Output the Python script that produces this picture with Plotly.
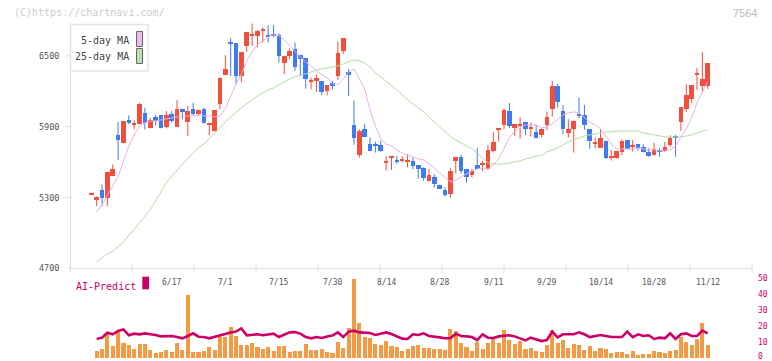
import plotly.graph_objects as go

W, H = 772, 361

# ---------------- data ----------------
date_labels = ["6/17", "7/1", "7/15", "7/30", "8/14", "8/28", "9/11", "9/29", "10/14", "10/28", "11/12"]
date_index = [15, 25, 35, 45, 55, 65, 75, 85, 95, 105, 115]
price_ticks = [4700, 5300, 5900, 6500]
ai_ticks = [0, 10, 20, 30, 40, 50]

opens = [5324, 5283, 5360, 5292, 5481, 5826, 5759, 5954, 5920, 5920,
         6013, 5886, 5985, 5996, 5894, 6005, 5897, 6053, 5940, 6047,
         6008, 6047, 5918, 5863, 6090, 6336, 6619, 6608, 6330, 6585,
         6670, 6670, 6707, 6675, 6684, 6681, 6438, 6500, 6557, 6506,
         6483, 6284, 6285, 6285, 6206, 6268, 6333, 6545, 6364, 5915,
         5661, 5881, 5754, 5754, 5746, 5600, 5636, 5619, 5617, 5602,
         5610, 5576, 5554, 5443, 5475, 5410, 5364, 5330, 5613, 5644,
         5542, 5491, 5576, 5580, 5545, 5695, 5877, 5915, 6034, 5893,
         5908, 5941, 5884, 5856, 5830, 5915, 6046, 6246, 6034, 5850,
         5879, 6008, 6000, 5881, 5758, 5723, 5782, 5639, 5638, 5689,
         5788, 5726, 5754, 5729, 5686, 5658, 5703, 5698, 5746, 5822,
         5943, 6051, 6136, 6345, 6246, 6246]
highs = [5328, 5311, 5410, 5515, 5580, 5940, 5945, 5996, 5954, 6104,
         6061, 5976, 5999, 5999, 6033, 6033, 6126, 6053, 6076, 6104,
         6047, 6059, 5934, 6039, 6316, 6506, 6650, 6608, 6534, 6704,
         6774, 6721, 6741, 6760, 6760, 6692, 6500, 6562, 6613, 6506,
         6483, 6316, 6342, 6285, 6251, 6285, 6621, 6653, 6387, 6121,
         5881, 5924, 5808, 5774, 5780, 5652, 5652, 5652, 5652, 5669,
         5638, 5576, 5554, 5542, 5497, 5410, 5387, 5548, 5644, 5664,
         5542, 5542, 5723, 5610, 5746, 5856, 5884, 6056, 6102, 5924,
         5980, 5941, 5935, 5915, 5887, 6028, 6288, 6262, 6085, 5963,
         5952, 6147, 6085, 5881, 5808, 5881, 5782, 5703, 5695, 5794,
         5788, 5788, 5754, 5751, 5720, 5763, 5720, 5771, 5828, 5830,
         6068, 6263, 6254, 6398, 6534, 6441]
lows = [5324, 5227, 5227, 5227, 5481, 5617, 5759, 5920, 5877, 5920,
        5877, 5886, 5911, 5886, 5886, 5934, 5897, 5962, 5821, 5999,
        5999, 5928, 5826, 5858, 6047, 6336, 6330, 6259, 6279, 6534,
        6585, 6571, 6613, 6613, 6660, 6443, 6344, 6472, 6373, 6330,
        6223, 6217, 6194, 6166, 6166, 6218, 6297, 6517, 6161, 5746,
        5638, 5811, 5698, 5681, 5689, 5528, 5534, 5585, 5596, 5556,
        5540, 5458, 5443, 5435, 5384, 5373, 5308, 5299, 5503, 5503,
        5427, 5469, 5542, 5525, 5534, 5681, 5774, 5879, 5887, 5822,
        5799, 5828, 5816, 5802, 5811, 5873, 5986, 6062, 5836, 5808,
        5681, 5972, 5873, 5712, 5715, 5723, 5627, 5613, 5630, 5661,
        5709, 5689, 5698, 5684, 5644, 5655, 5644, 5686, 5726, 5644,
        5864, 6025, 6102, 6212, 6195, 6220]
closes = [5328, 5303, 5292, 5515, 5538, 5787, 5945, 5928, 5934, 6090,
          5934, 5954, 5948, 5886, 6002, 5948, 6047, 6025, 6030, 6005,
          6039, 5928, 5922, 6039, 6316, 6387, 6599, 6330, 6534, 6704,
          6684, 6707, 6729, 6656, 6675, 6500, 6500, 6540, 6410, 6477,
          6302, 6290, 6316, 6194, 6251, 6242, 6528, 6653, 6342, 5808,
          5864, 5811, 5698, 5740, 5698, 5605, 5640, 5602, 5621, 5619,
          5568, 5542, 5469, 5491, 5415, 5373, 5322, 5525, 5644, 5528,
          5477, 5525, 5542, 5584, 5703, 5771, 5881, 6042, 5907, 5924,
          5912, 5884, 5901, 5808, 5882, 5983, 6246, 6113, 5884, 5881,
          5952, 5994, 5915, 5782, 5762, 5808, 5638, 5643, 5695, 5782,
          5709, 5746, 5717, 5684, 5652, 5712, 5689, 5732, 5805, 5808,
          6068, 6169, 6254, 6349, 6305, 6441]

ma5 = [None,
       5178, 5237, 5322, 5398, 5475, 5610, 5737, 5830, 5907, 5932,
       5949, 5949, 5958, 5966, 5975, 5983, 5983, 5992, 5992, 5992,
       5992, 5992, 5983, 5992, 6051, 6153, 6263, 6347, 6458, 6534,
       6593, 6627, 6661, 6678, 6670, 6636, 6585, 6534, 6492, 6449,
       6415, 6373, 6347, 6314, 6263, 6254, 6305, 6364, 6390, 6305,
       6220, 6042, 5907, 5797, 5754, 5737, 5703, 5678, 5661, 5644,
       5627, 5619, 5585, 5551, 5508, 5466, 5432, 5449, 5475, 5500,
       5525, 5542, 5551, 5542, 5576, 5627, 5720, 5805, 5864, 5898,
       5915, 5915, 5915, 5890, 5898, 5924, 5966, 6000, 6017, 6025,
       6017, 5983, 5941, 5915, 5881, 5822, 5754, 5712, 5712, 5712,
       5712, 5720, 5712, 5703, 5703, 5695, 5695, 5703, 5737, 5805,
       5881, 5975, 6102, 6195, 6280]
ma25 = [None,
        4754, 4788, 4822, 4847, 4881, 4924, 4975, 5034, 5085, 5144,
        5195, 5271, 5347, 5424, 5483, 5534, 5585, 5627, 5678, 5720,
        5754, 5797, 5847, 5898, 5941, 5983, 6025, 6059, 6093, 6127,
        6161, 6186, 6212, 6229, 6254, 6280, 6305, 6322, 6339, 6347,
        6364, 6381, 6390, 6398, 6407, 6415, 6432, 6449, 6466, 6458,
        6441, 6407, 6356, 6322, 6288, 6254, 6212, 6169, 6127, 6093,
        6059, 6025, 5983, 5941, 5898, 5856, 5814, 5788, 5763, 5737,
        5712, 5678, 5636, 5593, 5585, 5585, 5585, 5593, 5602, 5610,
        5627, 5636, 5653, 5653, 5686, 5703, 5720, 5746, 5771, 5788,
        5805, 5822, 5830, 5839, 5847, 5856, 5856, 5864, 5864, 5864,
        5864, 5864, 5847, 5839, 5830, 5822, 5814, 5814, 5814, 5814,
        5822, 5830, 5847, 5864, 5873]

volume = [None,
          4.4, 5.6, 15.0, 7.5, 16.0, 9.2, 8.1, 5.6, 8.75, 8.75,
          5.0, 3.3, 3.75, 5.0, 3.75, 9.4, 5.0, 39.4, 3.75, 3.75,
          4.4, 6.9, 5.0, 13.3, 13.3, 19.4, 13.75, 8.1, 8.1, 9.4,
          6.9, 5.6, 6.9, 4.4, 7.5, 7.5, 3.75, 4.4, 4.4, 8.75,
          5.0, 5.0, 5.6, 3.75, 3.1, 10.0, 6.25, 18.75, 49.4, 21.9,
          13.1, 12.5, 8.75, 8.1, 10.6, 7.5, 6.9, 4.4, 5.6, 7.5,
          8.1, 6.25, 6.25, 5.6, 5.6, 5.0, 18.1, 16.9, 9.4, 6.9,
          4.4, 10.0, 5.6, 9.4, 12.5, 9.4, 17.5, 11.25, 8.75, 10.6,
          5.6, 6.25, 4.4, 3.75, 8.1, 17.5, 9.4, 11.25, 6.25, 8.75,
          8.1, 5.0, 7.5, 4.4, 6.25, 5.6, 3.1, 3.75, 3.75, 2.5,
          4.4, 1.9, 2.5, 2.5, 4.4, 3.75, 3.1, 4.4, 5.0, 13.1,
          10.0, 8.1, 11.9, 21.9, 8.1]
ai_predict = [None,
              11.9, 12.7, 15.8, 14.8, 16.9, 17.9, 14.2, 15.2, 14.8, 15.4,
              14.8, 14.4, 13.5, 13.5, 13.75, 13.1, 12.3, 13.75, 15.4, 13.3,
              13.1, 12.3, 13.3, 14.4, 15.2, 16.0, 16.5, 18.5, 14.2, 14.4,
              14.8, 14.2, 14.8, 15.2, 13.1, 14.8, 16.0, 16.2, 15.2, 13.1,
              12.3, 13.1, 12.5, 13.5, 14.0, 16.0, 13.1, 16.5, 17.1, 16.0,
              15.6, 15.6, 14.4, 15.2, 16.0, 15.0, 13.5, 12.1, 11.9, 14.8,
              14.4, 15.4, 13.75, 13.1, 12.9, 12.3, 12.3, 15.2, 13.75, 13.5,
              13.1, 11.25, 14.8, 12.7, 12.5, 13.5, 13.75, 14.2, 13.5, 12.3,
              11.0, 12.7, 11.5, 10.6, 11.25, 16.5, 12.9, 14.8, 14.8, 14.8,
              16.0, 14.8, 13.1, 13.75, 14.4, 13.75, 13.1, 13.1, 13.1, 16.5,
              13.1, 14.8, 13.75, 14.2, 11.9, 12.7, 12.3, 15.4, 11.9, 14.8,
              15.4, 13.75, 13.75, 17.1, 15.4]

# ---------------- styling ----------------
RED = "#f0503c"
BLUE = "#3f7bf0"
MONO = "DejaVu Sans Mono"
AXIS_GREY = "#dedede"
MAGENTA = "#cc0066"

idx = list(range(len(opens)))


def px_x(p):
    return p / W


def px_y(p):
    return 1 - p / H


# x data range so that candle 0 sits at x=91.3px and candle 115 at 707.7px
step = (707.7 - 91.3) / 115
x_left = -(91.3 - 70) / step
x_right = x_left + (752 - 70) / step

# y ranges
ppx = 600 / 70.8  # price per pixel
main_top_px, main_bot_px = 22, 268.3
y_min = 4700
y_max = y_min + (main_bot_px - main_top_px) * ppx
ai_bot_px, ai_px_per_unit = 358, 1.6
ai_top_val = 51.25

fig = go.Figure()

# candle bodies and wicks
for up, color in ((True, RED), (False, BLUE)):
    bx, bbase, bh = [], [], []
    wx, wy = [], []
    for i, o, h, l, c in zip(idx, opens, highs, lows, closes):
        if (c >= o) != up:
            continue
        bx.append(i)
        bbase.append(min(o, c))
        bh.append(max(abs(c - o), 8))
        wx += [i, i, None]
        wy += [l, h, None]
    fig.add_trace(go.Scatter(x=wx, y=wy, mode="lines", line=dict(color=color, width=1),
                             hoverinfo="skip", xaxis="x", yaxis="y"))
    fig.add_trace(go.Bar(x=bx, y=bh, base=bbase, width=0.86, marker=dict(color=color, line=dict(width=0)),
                         xaxis="x", yaxis="y"))

fig.add_trace(go.Scatter(x=idx, y=ma25, mode="lines", line=dict(color="#b4dca4", width=1),
                         xaxis="x", yaxis="y"))
fig.add_trace(go.Scatter(x=idx, y=ma5, mode="lines", line=dict(color="#e8b0e8", width=1),
                         xaxis="x", yaxis="y"))

# lower panel
fig.add_trace(go.Bar(x=idx, y=volume, width=0.76, marker=dict(color="#f39a45", line=dict(width=0)),
                     xaxis="x", yaxis="y2"))
fig.add_trace(go.Scatter(x=idx, y=ai_predict, mode="lines", line=dict(color=MAGENTA, width=2.6),
                         xaxis="x", yaxis="y2"))

shapes = []
# axis lines
shapes.append(dict(type="line", xref="paper", yref="paper", x0=px_x(70.5), x1=px_x(70.5),
                   y0=px_y(24), y1=px_y(main_bot_px), line=dict(color=AXIS_GREY, width=1)))
shapes.append(dict(type="line", xref="paper", yref="paper", x0=px_x(70), x1=px_x(752),
                   y0=px_y(main_bot_px), y1=px_y(main_bot_px), line=dict(color=AXIS_GREY, width=1)))
for i in range(12):
    xp = 70 + i * (752 - 70) / 11
    shapes.append(dict(type="line", xref="paper", yref="paper", x0=px_x(xp), x1=px_x(xp),
                       y0=px_y(264), y1=px_y(273), line=dict(color=AXIS_GREY, width=1)))
# y tick marks
for v in price_ticks:
    shapes.append(dict(type="line", xref="paper", yref="y", x0=px_x(65.5), x1=px_x(73),
                       y0=v, y1=v, line=dict(color=AXIS_GREY, width=1)))
# legend box
shapes.append(dict(type="rect", xref="paper", yref="paper", x0=px_x(70.5), x1=px_x(148),
                   y0=px_y(24.5), y1=px_y(71), line=dict(color="#e2e2e2", width=1.5), fillcolor="white"))
shapes.append(dict(type="rect", xref="paper", yref="paper", x0=px_x(136.5), x1=px_x(142.5),
                   y0=px_y(31.5), y1=px_y(46.5), line=dict(color="#666666", width=1), fillcolor="#ecbcec"))
shapes.append(dict(type="rect", xref="paper", yref="paper", x0=px_x(136.5), x1=px_x(142.5),
                   y0=px_y(48.5), y1=px_y(63.5), line=dict(color="#666666", width=1), fillcolor="#bcdeb0"))
# AI-Predict swatch
shapes.append(dict(type="rect", xref="paper", yref="paper", x0=px_x(142.3), x1=px_x(149),
                   y0=px_y(276.7), y1=px_y(289.3), line=dict(width=0), fillcolor=MAGENTA))

annotations = []


def ann(text, x, y, size, color, xanchor="left", family=MONO, xref="paper", yref="paper", yshift=0):
    annotations.append(dict(text=text, x=x, y=(px_y(y) if yref == "paper" else y), xref=xref, yref=yref,
                            showarrow=False, xanchor=xanchor, yanchor="middle", yshift=yshift,
                            font=dict(family=family, size=size, color=color), borderpad=0))


ann("(C)https://chartnavi.com/", px_x(13), 12.5, 10, "#cccccc")
ann("7564", px_x(758), 12.5, 11, "#bbbbbb", xanchor="right", family="Liberation Sans")
ann("5-day MA", px_x(130), 40, 10, "#444444", xanchor="right")
ann("25-day MA", px_x(130), 56.5, 10, "#444444", xanchor="right")
ann("AI-Predict", px_x(75), 286, 10, MAGENTA)
for lab, k in zip(date_labels, date_index):
    ann(lab, k, 282, 8, "#555555", xanchor="center", xref="x")
for v in price_ticks:
    ann(str(v), px_x(60), v, 8.5, "#555555", xanchor="right", yref="y")
for v in ai_ticks:
    ann(str(v), px_x(757), v, 8, MAGENTA, xanchor="left", yref="y2", yshift=(2 if v == 0 else 0))

fig.update_layout(
    width=W, height=H,
    margin=dict(l=0, r=0, t=0, b=0),
    paper_bgcolor="white", plot_bgcolor="white",
    showlegend=False, barmode="overlay", bargap=0,
    font=dict(family=MONO),
    xaxis=dict(domain=[px_x(70), px_x(752)], range=[x_left, x_right], anchor="y",
               showticklabels=False, showgrid=False, zeroline=False, showline=False, ticks=""),
    yaxis=dict(domain=[px_y(main_bot_px), px_y(main_top_px)], range=[y_min, y_max], anchor="x",
               showticklabels=False, ticks="", showgrid=False, zeroline=False, showline=False),
    yaxis2=dict(domain=[px_y(ai_bot_px), px_y(ai_bot_px - ai_top_val * ai_px_per_unit)],
                range=[0, ai_top_val], anchor="x", side="right",
                showticklabels=False, ticks="", showgrid=False, zeroline=False, showline=False),
    shapes=shapes,
    annotations=annotations,
)

fig.write_html("out.html", config=dict(displayModeBar=False),
               post_script="document.body.style.margin='0';document.body.style.padding='0';")
